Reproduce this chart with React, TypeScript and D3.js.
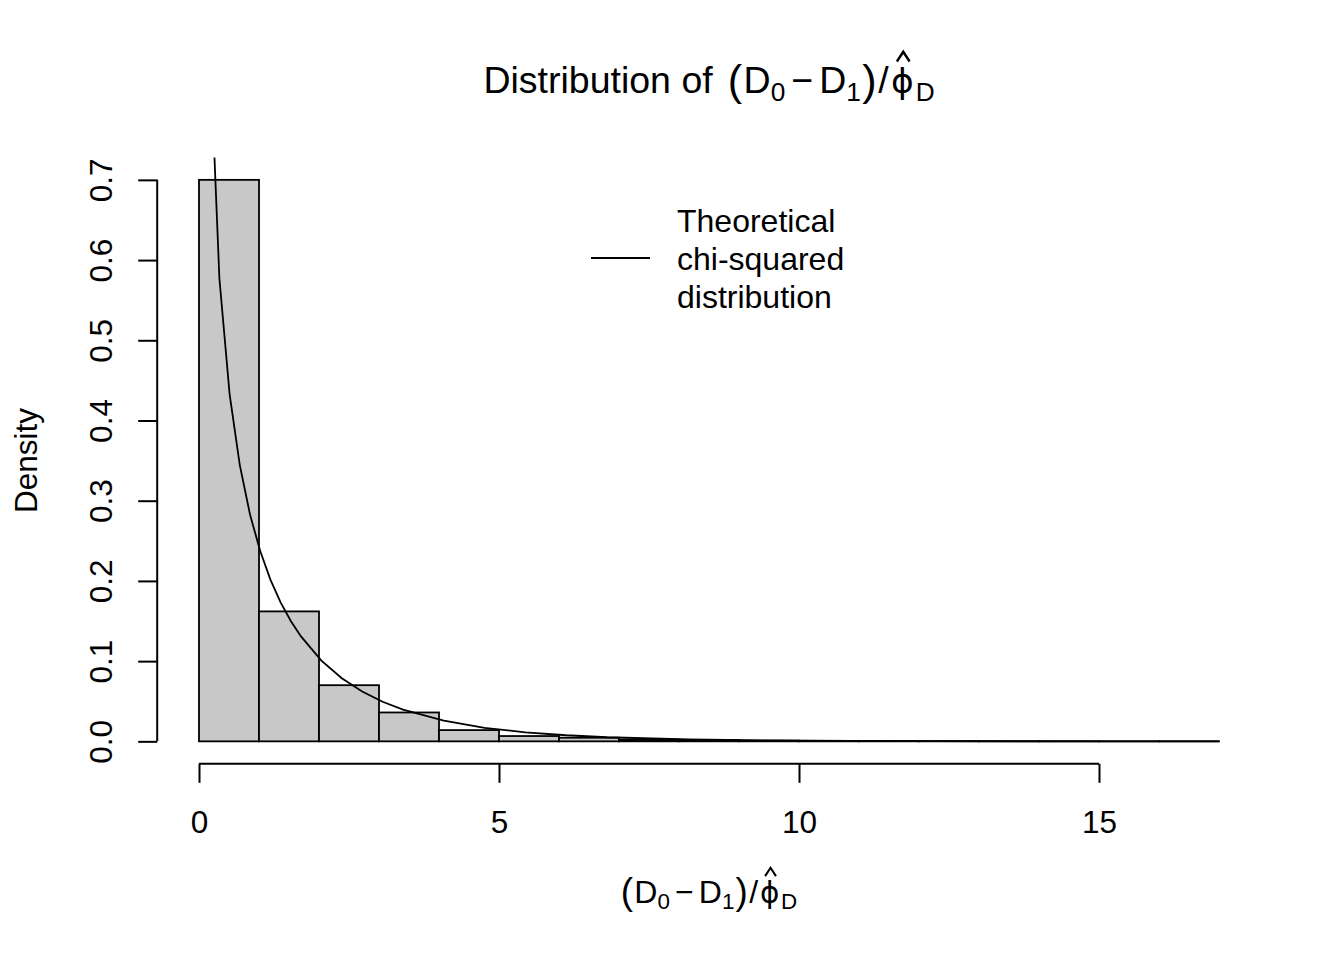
import * as d3 from 'd3'
import React, { useEffect, useRef } from 'react'

const WIDTH = 1344
const HEIGHT = 960
const FONT = '"Liberation Sans", Arial, Helvetica, sans-serif'

// histogram bins (unit width) and their densities
const breaks = [0, 1, 2, 3, 4, 5, 6, 7, 8, 9, 10, 11, 12, 13, 14, 15, 16, 17]
const densities = [
  0.7, 0.162, 0.07, 0.036, 0.014, 0.0066, 0.0045, 0.0022, 0.0015, 0.0008, 0.0005, 0.0004,
  0.0003, 0.0002, 0.0002, 0.0001, 0.0001,
]

// theoretical chi-squared (df = 1) curve, sampled points
const curveX = [
  0.17, 0.34, 0.51, 0.68, 0.85, 1.02, 1.19, 1.36, 1.53, 1.7, 2.04, 2.38, 2.72, 3.06, 3.4, 4.08,
  4.76, 5.44, 6.12, 6.8, 8.16, 9.52, 10.88, 12.24, 13.6, 14.96, 17,
]
const curveY = [
  0.889, 0.577, 0.433, 0.3444, 0.2829, 0.2372, 0.2017, 0.1733, 0.1501, 0.1308, 0.1007, 0.0787,
  0.0621, 0.0494, 0.0395, 0.0257, 0.0169, 0.0113, 0.0076, 0.0051, 0.0024, 0.0011, 0.00053,
  0.00025, 0.00012, 0.00006, 0.00002,
]

const xTicks = [0, 5, 10, 15]
const yTicks = [0, 0.1, 0.2, 0.3, 0.4, 0.5, 0.6, 0.7]
const legendLines = ['Theoretical', 'chi-squared', 'distribution']
const titlePrefix = 'Distribution of'
const yLabel = 'Density'

type Piece = { text: string; sub?: boolean; hat?: boolean; big?: boolean; before?: number; after?: number }

// (D0 - D1) / phi-hat_D
const ratioPieces: Piece[] = [
  { text: '(', big: true, after: 0.04 },
  { text: 'D' },
  { text: '0', sub: true },
  { text: '\u2212', before: 0.16, after: 0.16 },
  { text: 'D' },
  { text: '1', sub: true },
  { text: ')', big: true, before: 0.04 },
  { text: '/', before: 0.04, after: 0.06 },
  { text: '\u03d5', hat: true },
  { text: 'D', sub: true },
]

type G = d3.Selection<SVGGElement, unknown, null, undefined>

function drawMath(parent: G, pieces: Piece[], size: number, cx: number, base: number) {
  const g = parent.append('g')
  let x = 0
  pieces.forEach((p) => {
    x += (p.before ?? 0) * size
    const fs = p.sub ? size * 0.7 : p.big ? size * 1.15 : size
    const t = g
      .append('text')
      .attr('x', x)
      .attr('y', p.sub ? base + size * 0.2 : p.big ? base + size * 0.04 : base)
      .attr('font-size', fs)
      .attr('font-family', p.hat ? '"DejaVu Sans", sans-serif' : FONT)
      .text(p.text)
    const w = (t.node() as SVGTextElement).getComputedTextLength()
    if (p.hat) {
      t.attr('font-size', size * 0.92)
      const hx = x + w / 2
      g.append('path')
        .attr(
          'd',
          `M${hx - size * 0.17},${base - size * 0.84}L${hx},${base - size * 1.1}L${hx + size * 0.17},${base - size * 0.84}`,
        )
        .attr('fill', 'none')
        .attr('stroke', 'black')
        .attr('stroke-width', size * 0.065)
    }
    x += w + (p.after ?? 0) * size
  })
  g.attr('transform', `translate(${cx - x / 2},0)`)
  return x
}

const Chart = () => {
  const ref = useRef<SVGSVGElement>(null)

  useEffect(() => {
    const svg = d3.select(ref.current)
    svg.selectAll('*').remove()

    // plot region, R style 4% extension of the ranges
    const x = d3.scaleLinear().domain([-0.68, 17.68]).range([158.2, 1259.8])
    const y = d3.scaleLinear().domain([-0.028, 0.728]).range([763.8, 157.4])
    const [left, right] = x.range()
    const [bottom, top] = y.range()

    const root = svg.append('g').attr('font-family', FONT).attr('fill', 'black')

    svg
      .append('defs')
      .append('clipPath')
      .attr('id', 'plot-clip')
      .append('rect')
      .attr('x', left)
      .attr('y', top)
      .attr('width', right - left)
      .attr('height', bottom - top)

    // bars
    root
      .append('g')
      .selectAll('rect')
      .data(densities)
      .join('rect')
      .attr('x', (_, i) => x(breaks[i]))
      .attr('y', (d) => y(d))
      .attr('width', (_, i) => x(breaks[i + 1]) - x(breaks[i]))
      .attr('height', (d) => y(0) - y(d))
      .attr('fill', '#c8c8c8')
      .attr('stroke', 'black')
      .attr('stroke-width', 1.8)

    // theoretical curve
    const line = d3
      .line<number>()
      .x((_, i) => x(curveX[i]))
      .y((d) => y(d))
    root
      .append('path')
      .datum(curveY)
      .attr('d', line)
      .attr('fill', 'none')
      .attr('stroke', 'black')
      .attr('stroke-width', 1.8)
      .attr('clip-path', 'url(#plot-clip)')

    // x axis
    const xAxis = d3
      .axisBottom(x)
      .tickValues(xTicks)
      .tickSize(19)
      .tickFormat((d) => String(d))
    const gx = root.append('g').attr('transform', `translate(0,${bottom})`).call(xAxis)
    gx.select('.domain').attr('d', `M${x(0)},0H${x(15)}`).attr('stroke-width', 2)
    gx.selectAll('.tick line').attr('stroke-width', 2)
    gx.selectAll('.tick text')
      .attr('font-size', 31.5)
      .attr('font-family', FONT)
      .attr('dy', null)
      .attr('y', 69.5)

    // y axis
    const yAxis = d3.axisLeft(y).tickValues(yTicks).tickSize(19).tickFormat(d3.format('.1f'))
    const gy = root.append('g').attr('transform', `translate(${left - 1},0)`).call(yAxis)
    gy.select('.domain').attr('d', `M0,${y(0)}V${y(0.7)}`).attr('stroke-width', 2)
    gy.selectAll('.tick line').attr('stroke-width', 2)
    gy.selectAll('.tick text')
      .attr('font-size', 31.5)
      .attr('font-family', FONT)
      .attr('x', null)
      .attr('dy', null)
      .attr('text-anchor', 'middle')
      .attr('transform', 'translate(-45,0) rotate(-90)')

    // axis titles
    root
      .append('text')
      .attr('transform', `translate(37,${(top + bottom) / 2}) rotate(-90)`)
      .attr('text-anchor', 'middle')
      .attr('font-size', 31.5)
      .text(yLabel)

    const cx = (left + right) / 2
    drawMath(root, ratioPieces, 32, cx, 903)

    // title: prefix + expression, centred together
    const titleSize = 37.5
    const tg = root.append('g')
    const prefix = tg.append('text').attr('x', 0).attr('y', 93).attr('font-size', titleSize).text(titlePrefix)
    const pw = (prefix.node() as SVGTextElement).getComputedTextLength()
    const mg = tg.append('g')
    const ew = drawMath(mg, ratioPieces, titleSize, 0, 93)
    const gap = titleSize * 0.4
    mg.attr('transform', `translate(${pw + gap + ew / 2},0)`)
    tg.attr('transform', `translate(${cx - (pw + gap + ew) / 2},0)`)

    // legend
    const lg = root.append('g')
    lg.append('line')
      .attr('x1', 591)
      .attr('x2', 650)
      .attr('y1', 258)
      .attr('y2', 258)
      .attr('stroke', 'black')
      .attr('stroke-width', 2)
    lg.selectAll('text')
      .data(legendLines)
      .join('text')
      .attr('x', 677)
      .attr('y', (_, i) => 220 + i * 38)
      .attr('dy', '0.36em')
      .attr('font-size', 32)
      .text((d) => d)
  }, [])

  return (
    <svg
      ref={ref}
      width={WIDTH}
      height={HEIGHT}
      style={{ position: 'absolute', left: 0, top: 0, background: 'white' }}
    />
  )
}

export default function App() {
  return <Chart />
}
